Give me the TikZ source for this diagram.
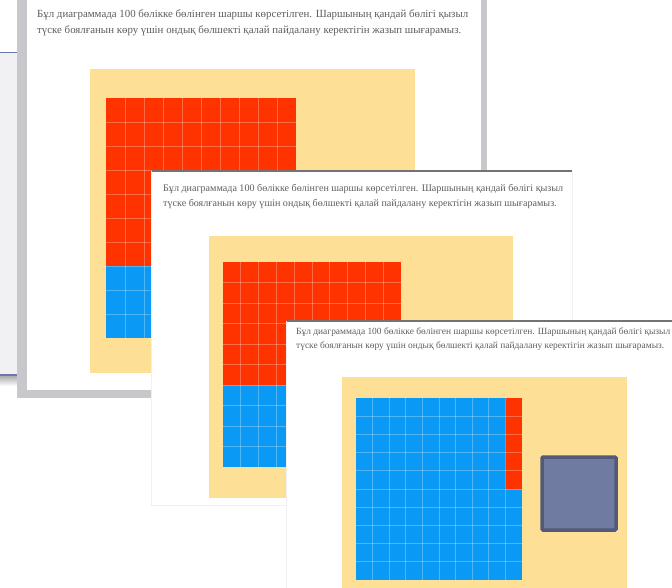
\documentclass[tikz,border=0pt]{standalone}
\usepackage{fontspec}
\setmainfont{Liberation Serif}
\usetikzlibrary{calc}
\definecolor{cred}{HTML}{FF3300}
\definecolor{cblue}{HTML}{0A99F5}
\definecolor{cyel}{HTML}{FDE096}
\definecolor{ctext}{HTML}{5E5E5E}
\definecolor{cpanel}{HTML}{F1F1F3}
\definecolor{cline}{HTML}{6A78B0}
\definecolor{cborder}{HTML}{C8C8CC}
\definecolor{cpurp}{HTML}{707BA2}
\definecolor{cpurpd}{HTML}{535979}
\newcommand{\slidetext}[1]{\resizebox{#1}{!}{\begin{tabular}{@{}l@{}}Бұл диаграммада 100 бөлікке бөлінген шаршы көрсетілген. Шаршының қандай бөлігі қызыл\\[3pt] түске боялғанын көру үшін ондық бөлшекті қалай пайдалану керектігін жазып шығарамыз.\end{tabular}}}
\tikzset{
  slidebox/.style={fill=white},
  topedge/.style={draw=black!55, line width=1.3pt},
  gridline/.style={white, opacity=0.28, line width=0.7pt},
  stext/.style={anchor=north west, inner sep=0pt, text=ctext},
}
% grid: x0 y0 x1 y1 (red rows from top)
\newcommand{\rbgrid}[5]{%
  \pgfmathsetmacro{\gh}{(#4-#2)/10}
  \pgfmathsetmacro{\gm}{#2+#5*\gh}
  \fill[cred] (#1,#2) rectangle (#3,\gm);
  \fill[cblue] (#1,\gm) rectangle (#3,#4);
  \foreach \i in {1,...,9}{
    \pgfmathsetmacro{\gx}{#1+\i*(#3-#1)/10}
    \pgfmathsetmacro{\gy}{#2+\i*(#4-#2)/10}
    \draw[gridline] (\gx,#2) -- (\gx,#4);
    \draw[gridline] (#1,\gy) -- (#3,\gy);
  }}
\begin{document}
\begin{tikzpicture}[x=1pt,y=-1pt]
\useasboundingbox (0,0) rectangle (672,588);
\fill[white] (0,0) rectangle (672,588);
% background panel at left
\fill[cpanel] (0,52) rectangle (20,375);
\shade[top color=black!35, bottom color=white] (0,375) rectangle (20,386);
\draw[cline, line width=0.9pt] (0,52) -- (20,52);
\draw[cline, line width=1.2pt] (0,375) -- (20,375);
% slide 1
\fill[cborder] (17,0) rectangle (487,398);
\fill[slidebox] (27,0) rectangle (481,390);
\node[stext] (t1) at (37,8) {\slidetext{431pt}};
\fill[cyel] (90,69) rectangle (415,373);
\rbgrid{106}{98}{296}{338}{7}
% slide 2
\fill[black!6] (151,171) rectangle (573,506);
\fill[slidebox] (152,171) rectangle (572,505);
\draw[topedge] (152,171) -- (572,171);
\node[stext] (t2) at (163,183) {\slidetext{400pt}};
\fill[cyel] (209,236) rectangle (513,498);
\rbgrid{223}{262}{401}{467}{6}
% slide 3
\fill[black!6] (286,321) rectangle (672,588);
\fill[slidebox] (287,321) rectangle (672,588);
\draw[topedge] (287,321) -- (672,321);
\node[stext] (t3) at (296,326) {\slidetext{374pt}};
\fill[cyel] (342,377) rectangle (627,588);
\fill[cblue] (356,398) rectangle (522,580);
\fill[cred] (505.4,398) rectangle (522,489);
\foreach \i in {1,...,9}{
  \pgfmathsetmacro{\gx}{356+\i*16.6}
  \pgfmathsetmacro{\gy}{398+\i*18.2}
  \draw[gridline] (\gx,398) -- (\gx,580);
  \draw[gridline] (356,\gy) -- (522,\gy);
}
\node[draw=cpurpd, fill=cpurp, line width=3.5pt, rounded corners=1pt,
      minimum width=74pt, minimum height=73pt, inner sep=0pt] (sq) at (579,493.5) {};
\end{tikzpicture}
\end{document}
